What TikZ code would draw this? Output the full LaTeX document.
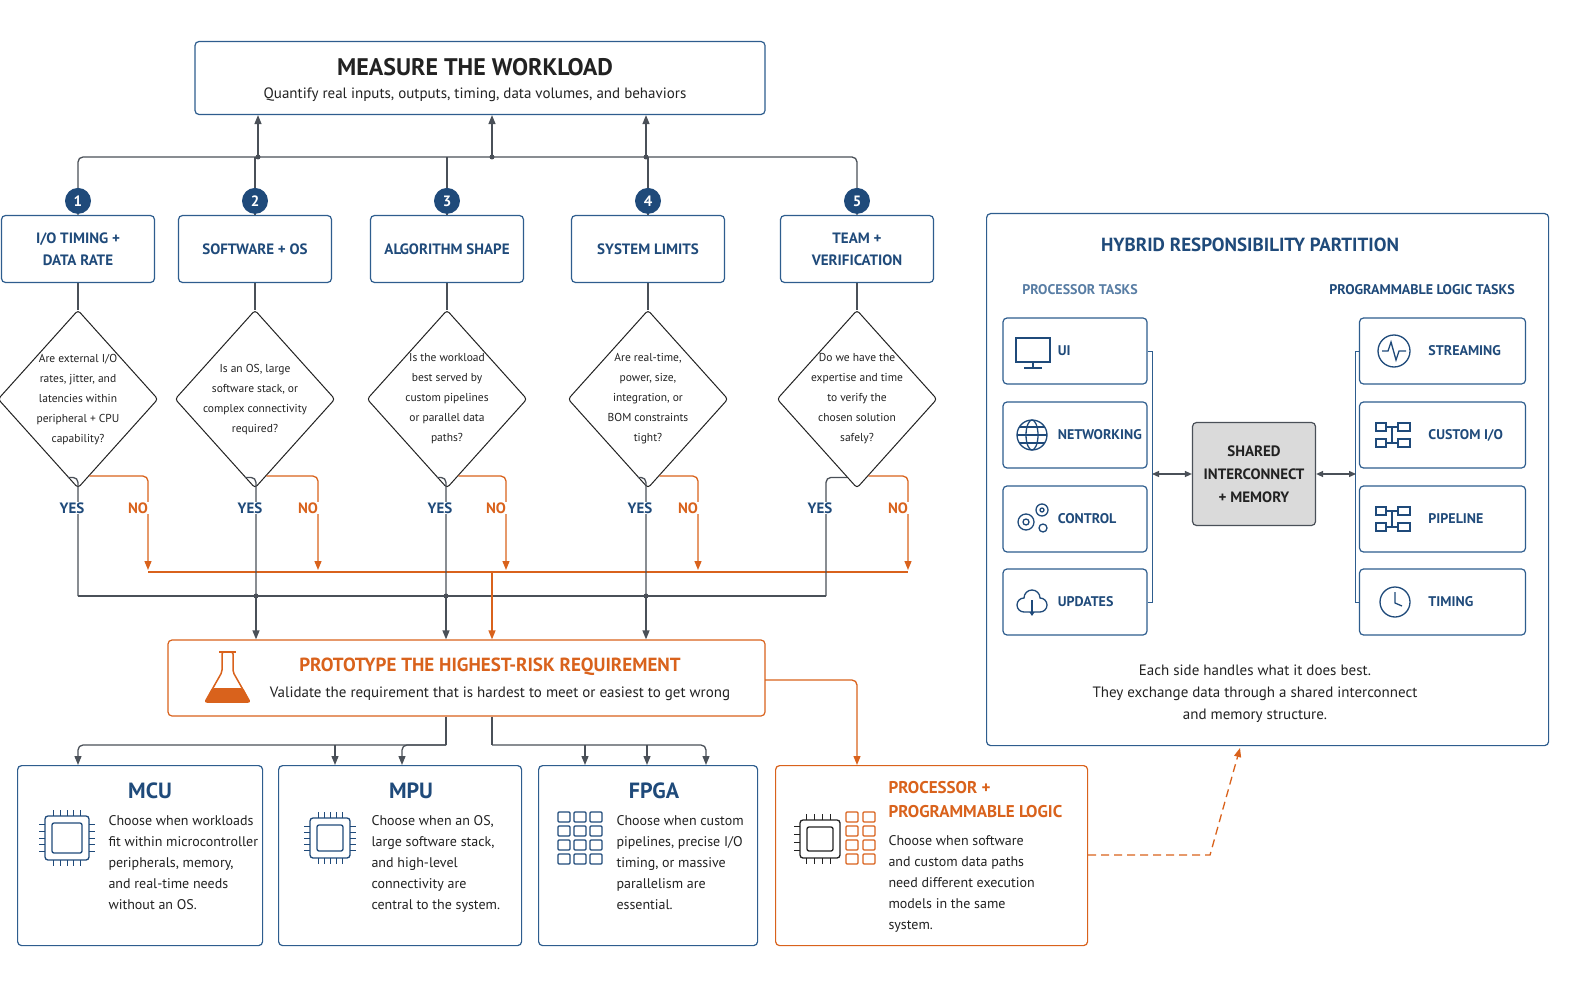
\documentclass[tikz,border=0pt]{standalone}
\usepackage{fontspec}
\setmainfont{PT Sans}
\usetikzlibrary{positioning,calc,arrows.meta,shapes.geometric}
\definecolor{navy}{HTML}{1F4A7A}
\definecolor{orng}{HTML}{D9621C}
\definecolor{wire}{HTML}{4A5058}
\definecolor{ink}{HTML}{222222}
\definecolor{pblue}{HTML}{2E5D8E}
\definecolor{hubgray}{HTML}{DADADA}
\tikzset{
  box/.style={draw=pblue, line width=1.2pt, rounded corners=4pt, fill=white},
  obox/.style={draw=orng, line width=1.2pt, rounded corners=4pt, fill=white},
  cat/.style={box, minimum width=153pt, minimum height=67pt, align=center,
    font=\fontsize{15}{22}\selectfont\bfseries, text=navy},
  num/.style={circle, fill=navy, text=white, minimum size=26pt, inner sep=0pt,
    font=\fontsize{15}{15}\selectfont\bfseries},
  dia/.style={diamond, draw=ink, line width=1pt, minimum width=160pt,
    minimum height=178pt, inner sep=0pt, rounded corners=3pt, fill=white},
  qtext/.style={align=center, text=ink, font=\fontsize{11.5}{20}\selectfont},
  line/.style={draw=wire, line width=1.3pt, rounded corners=5pt},
  arr/.style={line, -{Triangle[length=9pt,width=7pt]}},
  oline/.style={draw=orng, line width=1.3pt, rounded corners=5pt},
  oarr/.style={oline, -{Triangle[length=9pt,width=7pt]}},
  yes/.style={fill=white, inner sep=1pt, text=navy, font=\fontsize{15}{15}\selectfont\bfseries},
  no/.style={fill=white, inner sep=1pt, text=orng, font=\fontsize{15}{15}\selectfont\bfseries},
  card/.style={box, minimum height=180pt, anchor=north west},
  ctitle/.style={text=navy, font=\fontsize{22}{22}\selectfont\bfseries},
  ctext/.style={anchor=north west, align=left, text=ink, font=\fontsize{14}{21}\selectfont},
  task/.style={box, minimum width=144pt, minimum height=66pt},
  ttext/.style={anchor=west, text=navy, font=\fontsize{14}{14}\selectfont\bfseries},
  icon/.style={draw=navy, line width=1.3pt},
  dot/.style={circle, fill=wire, inner sep=0pt, minimum size=5pt},
}
\newcommand{\chipicon}[3]{% x, y, half size
  \begin{scope}[shift={(#1,#2)}]
    \draw[icon, rounded corners=3pt] (-#3,-#3) rectangle (#3,#3);
    \draw[icon, rounded corners=2pt] (-#3+7,-#3+7) rectangle (#3-7,#3-7);
    \foreach \p in {-0.6,-0.3,0,0.3,0.6} {
      \draw[icon, line width=1pt] (\p*#3,-#3) -- ++(0,-6);
      \draw[icon, line width=1pt] (\p*#3,#3) -- ++(0,6);
      \draw[icon, line width=1pt] (-#3,\p*#3) -- ++(-6,0);
      \draw[icon, line width=1pt] (#3,\p*#3) -- ++(6,0);
    }
  \end{scope}}
\begin{document}
\begin{tikzpicture}[x=1pt,y=-1pt]
\useasboundingbox (0,0) rectangle (1586,992);

% Top box
\node[box, minimum width=570pt, minimum height=73pt] (top) at (480,78) {};
\node[text=ink, font=\fontsize{24}{24}\selectfont\bfseries] at (475,67) {MEASURE THE WORKLOAD};
\node[text=ink, font=\fontsize{15}{15}\selectfont] at (475,95) {Quantify real inputs, outputs, timing, data volumes, and behaviors};

% Categories
\foreach \n/\x/\t in {1/78/{I/O TIMING +\\DATA RATE}, 2/255/{SOFTWARE + OS}, 3/447/{ALGORITHM SHAPE},
    4/648/{SYSTEM LIMITS}, 5/857/{TEAM +\\VERIFICATION}} {
  \node[cat] (c\n) at (\x,249) {\t};
}
\coordinate (bl) at (78,157);
\coordinate (br) at (857,157);
\draw[line] (c1.north) |- (br) -- (c5.north);
\foreach \n in {2,3,4} \draw[line] (c\n.north) -- (c\n.north |- bl);
\foreach \x/\m in {258/a, 492/b, 646/c} {
  \coordinate (up\m) at (\x,157);
  \draw[arr] (up\m) -- (up\m |- top.south);
  \node[dot] at (up\m) {};
}
\foreach \n in {1,...,5} \node[num] (n\n) at ($(c\n.north)+(0,-14)$) {\n};

% Questions
\foreach \n/\t in {1/{Are external I/O\\rates, jitter, and\\latencies within\\peripheral + CPU\\capability?},
    2/{Is an OS, large\\software stack, or\\complex connectivity\\required?},
    3/{Is the workload\\best served by\\custom pipelines\\or parallel data\\paths?},
    4/{Are real-time,\\power, size,\\integration, or\\BOM constraints\\tight?},
    5/{Do we have the\\expertise and time\\to verify the\\chosen solution\\safely?}} {
  \node[dia] (d\n) at ($(c\n.south)+(0,116)$) {};
  \draw[line] (c\n.south) -- (d\n.north);
  \node[qtext] at (d\n) {\t};
}

% Buses
\coordinate (obL) at (148,572);
\coordinate (obR) at (908,572);
\coordinate (bbL) at (78,596);
\coordinate (bbR) at (826,596);
\draw[oline] (obL) -- (obR);
\draw[line] (bbL) -- (bbR);

% YES / NO branches
\foreach \n/\yx/\nx in {1/78/148, 2/256/318, 3/446/506, 4/646/698, 5/826/908} {
  \draw[line] ($(d\n.south west)!0.75!(d\n.south)$) -| (\yx,596);
  \node[yes] at (\yx-6,508) {YES};
  \draw[oarr] ($(d\n.south east)!0.72!(d\n.south)$) -| (\nx,570);
  \node[no] at (\nx-10,508) {NO};
}
\foreach \x in {256,446,646} \node[dot] at (\x,596) {};

% Prototype
\node[obox, minimum width=597pt, minimum height=76pt] (proto) at (466.5,678) {};
\coordinate (po) at (492,572);
\draw[oarr] (po) -- (po |- proto.north);
\foreach \x in {256,446,646} {
  \coordinate (pb) at (\x,596);
  \draw[arr] (pb) -- (pb |- proto.north);
}
\node[text=orng, font=\fontsize{19}{19}\selectfont\bfseries] at (490,667) {PROTOTYPE THE HIGHEST-RISK REQUIREMENT};
\node[text=ink, font=\fontsize{15}{15}\selectfont] at (500,694) {Validate the requirement that is hardest to meet or easiest to get wrong};
% flask
\draw[draw=orng, line width=1.5pt, fill=white, rounded corners=2pt]
  (222,652) -- (222,672) -- (205,702) -- (250,702) -- (233,672) -- (233,652) -- cycle;
\fill[orng, rounded corners=2pt] (212,688) -- (243,688) -- (250,702) -- (205,702) -- cycle;
\draw[orng, line width=1.5pt] (219,652) -- (236,652);

% Cards
\node[card, minimum width=245pt] (mcu) at (17,765) {};
\node[card, minimum width=243pt] (mpu) at (278,765) {};
\node[card, minimum width=219pt] (fpga) at (538,765) {};
\node[card, obox, minimum width=312pt] (ppl) at (775,765) {};

\coordinate (sp1) at (446,745);
\coordinate (sp2) at (492,745);
\coordinate (pk) at (765,680);
\draw[line] (sp1 |- proto.south) -- (sp1);
\draw[arr] (sp1) -| (mcu.north -| 78,0);
\draw[arr] (sp1) -| (mpu.north -| 402,0);
\coordinate (m2) at (335,745);
\draw[arr] (m2) -- (m2 |- mpu.north);
\draw[line] (sp2 |- proto.south) -- (sp2);
\draw[arr] (sp2) -| (fpga.north -| 706,0);
\foreach \x in {585,647} {
  \coordinate (f2) at (\x,745);
  \draw[arr] (f2) -- (f2 |- fpga.north);
}
\coordinate (pk2) at (857,700);
\draw[oarr] (pk) -| (pk2 |- ppl.north);

\node[ctitle] at (150,791) {MCU};
\node[ctext] at (105,812) {Choose when workloads\\fit within microcontroller\\peripherals, memory,\\and real-time needs\\without an OS.};
\chipicon{67}{838}{22}
\node[ctitle] at (411,791) {MPU};
\node[ctext] at (368,812) {Choose when an OS,\\large software stack,\\and high-level\\connectivity are\\central to the system.};
\chipicon{330}{838}{20}
\node[ctitle] at (654,791) {FPGA};
\node[ctext] at (613,812) {Choose when custom\\pipelines, precise I/O\\timing, or massive\\parallelism are\\essential.};
\foreach \i in {0,1,2} \foreach \j in {0,1,2,3}
  \draw[icon, rounded corners=1pt] (558+\i*16,812+\j*14) rectangle ++(12,10);
\node[anchor=west, text=orng, align=left, font=\fontsize{17}{24}\selectfont\bfseries] at (885,800) {PROCESSOR +\\PROGRAMMABLE LOGIC};
\node[ctext] at (885,832) {Choose when software\\and custom data paths\\need different execution\\models in the same\\system.};
\begin{scope}
  \draw[draw=ink, line width=1.3pt, rounded corners=3pt] (800,820) rectangle (840,858);
  \draw[draw=ink, line width=1.3pt, rounded corners=2pt] (807,827) rectangle (833,851);
  \foreach \p in {806,814,822,830} {\draw[ink, line width=1pt] (\p,820) -- ++(0,-6); \draw[ink, line width=1pt] (\p,858) -- ++(0,6);}
  \foreach \p in {826,834,842,850} \draw[ink, line width=1pt] (800,\p) -- ++(-6,0);
  \foreach \i in {0,1} \foreach \j in {0,1,2,3}
    \draw[draw=orng, line width=1.2pt, rounded corners=1pt] (846+\i*17,812+\j*14) rectangle ++(12,10);
\end{scope}

% Hybrid panel
\node[box, minimum width=562pt, minimum height=532pt, anchor=north west] (panel) at (986,213) {};
\node[text=navy, font=\fontsize{19}{19}\selectfont\bfseries] at (1250,245) {HYBRID RESPONSIBILITY PARTITION};
\node[text=pblue!80, font=\fontsize{14}{14}\selectfont\bfseries] at (1080,290) {PROCESSOR TASKS};
\node[text=navy, font=\fontsize{14}{14}\selectfont\bfseries] at (1422,290) {PROGRAMMABLE LOGIC TASKS};
\foreach \n/\y/\t in {1/351/UI, 2/435/NETWORKING, 3/519/CONTROL, 4/602/UPDATES} {
  \node[task] (p\n) at (1075,\y) {};
  \node[ttext] at ($(p\n.west)+(52,0)$) {\t};
}
\foreach \n/\y/\t in {1/351/STREAMING, 2/435/{CUSTOM I/O}, 3/519/PIPELINE, 4/602/TIMING} {
  \node[task, minimum width=166pt] (l\n) at (1442.5,\y) {};
  \node[ttext] at ($(l\n.west)+(66,0)$) {\t};
}
\node[draw=wire, line width=1.2pt, fill=hubgray, rounded corners=4pt, minimum width=123pt,
  minimum height=103pt, align=center, text=ink, font=\fontsize{15}{23}\selectfont\bfseries]
  (hub) at (1254,474) {SHARED\\INTERCONNECT\\+ MEMORY};
\draw[draw=pblue, line width=0.7pt] (p1.east) -- ++(5,0) |- (p4.east);
\draw[draw=pblue, line width=0.7pt] (l1.west) -- ++(-4,0) |- (l4.west);
\coordinate (pj) at (1152,474);
\coordinate (lj) at (1356,474);
\draw[line, {Triangle[length=7pt,width=6pt]}-{Triangle[length=7pt,width=6pt]}] (pj) -- (hub.west);
\draw[line, {Triangle[length=7pt,width=6pt]}-{Triangle[length=7pt,width=6pt]}] (hub.east) -- (lj);
\node[align=center, text=ink, font=\fontsize{15}{22}\selectfont] at (1255,694)
  {Each side handles what it does best.\\They exchange data through a shared interconnect\\and memory structure.};

% task icons
\draw[icon] (1016,338) rectangle (1050,362); \draw[icon] (1033,362) -- (1033,368); \draw[icon] (1024,368) -- (1042,368);
\draw[icon] (1032,435) circle (15); \draw[icon] (1032,435) ellipse (6 and 15); \draw[icon] (1017,435) -- (1047,435);
\draw[icon] (1019,427) -- (1045,427); \draw[icon] (1019,443) -- (1045,443);
\draw[icon] (1026,522) circle (8); \draw[icon] (1026,522) circle (3); \draw[icon] (1042,510) circle (6); \draw[icon] (1042,510) circle (2);
\draw[icon] (1043,528) circle (4);
\begin{scope}[shift={(1030,604)}, yscale=-1]
  \draw[icon] (-6,-8) arc (270:90:7) arc (180:0:8) arc (90:-90:7) -- cycle;
  \draw[icon, -{Triangle[length=4pt,width=5pt]}] (2,4) -- (2,-12);
\end{scope}
\draw[icon] (1394,351) circle (16);
\draw[icon] (1382,351) -- (1388,351) -- (1391,342) -- (1396,360) -- (1399,351) -- (1406,351);
\foreach \y in {435,519} {
  \draw[icon] (1376,\y-12) rectangle ++(10,8); \draw[icon] (1376,\y+4) rectangle ++(10,8);
  \draw[icon] (1398,\y-12) rectangle ++(12,8); \draw[icon] (1398,\y+4) rectangle ++(12,8);
  \draw[icon] (1386,\y-8) -- (1398,\y-8); \draw[icon] (1386,\y+8) -- (1398,\y+8); \draw[icon] (1392,\y-8) -- (1392,\y+8);
}
\draw[icon] (1395,602) circle (15); \draw[icon] (1395,592) -- (1395,603) -- (1402,606);

% Dashed link to panel
\coordinate (dk) at (1210,855);
\coordinate (dt) at (1240,748);
\draw[oarr, dash pattern=on 8pt off 5pt, rounded corners=0pt] (ppl.east |- dk) -- (dk) -- (dt);
\end{tikzpicture}
\end{document}
